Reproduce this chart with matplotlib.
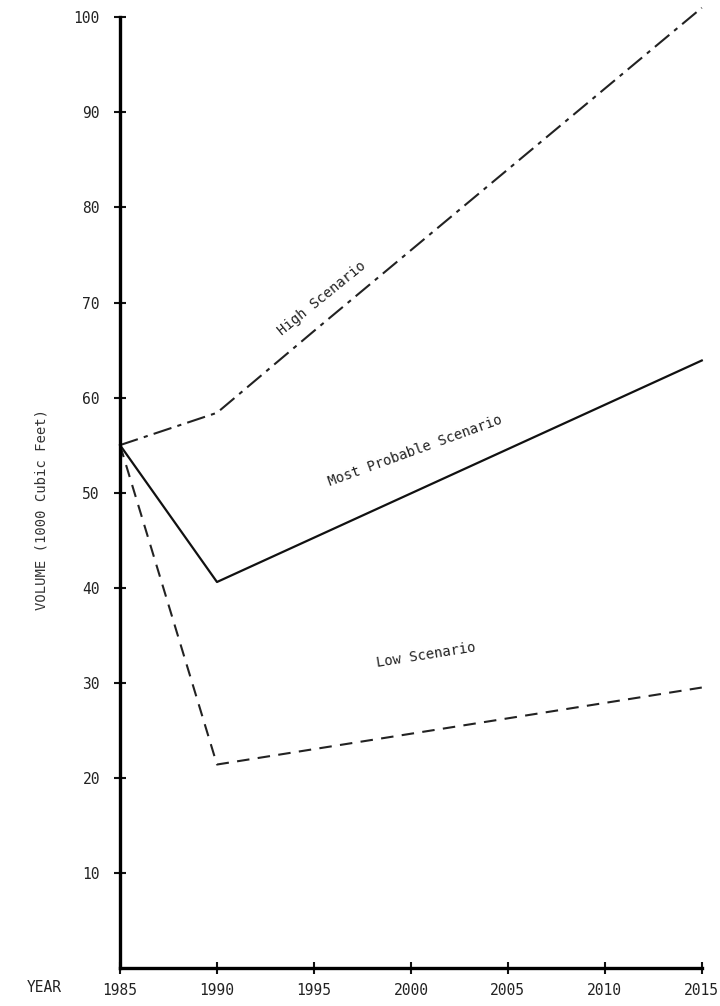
import matplotlib
matplotlib.use("Agg")
import matplotlib.pyplot as plt

years = [1985, 1990, 1995, 2000, 2005, 2010, 2015]
high = [55, 58.4, 67, 75.5, 84, 92.5, 101]
probable_years = [1985, 1990, 2015]
probable = [55, 40.6, 63.9]
low_years = [1985, 1990, 2015]
low = [55, 21.4, 29.5]
yticks = [10, 20, 30, 40, 50, 60, 70, 80, 90, 100]

font = "DejaVu Sans Mono"
fig = plt.figure(figsize=(7.2, 10.06), dpi=100)
ax = fig.add_axes([0.1667, 0.0378, 0.808, 0.945])
ax.plot(years, high, color="#222", lw=1.5, dashes=(9, 3, 2, 3), clip_on=False)
ax.plot(probable_years, probable, color="#111", lw=1.6, clip_on=False)
ax.plot(low_years, low, color="#222", lw=1.5, dashes=(6, 4), clip_on=False)

ax.set_xlim(1985, 2015)
ax.set_ylim(0, 100)
ax.spines["top"].set_visible(False)
ax.spines["right"].set_visible(False)
ax.spines["left"].set_linewidth(2.4)
ax.spines["bottom"].set_linewidth(2.4)
ax.set_xticks(years)
ax.set_yticks(yticks)
ax.tick_params(direction="inout", length=9, width=1.5, color="#111",
               labelsize=10.5, labelcolor="#222")
ax.tick_params(axis="y", pad=10)
ax.tick_params(axis="x", pad=6)
for lbl in ax.get_xticklabels() + ax.get_yticklabels():
    lbl.set_family(font)

ax.text(1995.4, 70.4, "High Scenario", rotation=39, ha="center", va="center",
        family=font, fontsize=10, color="#222", rotation_mode="anchor")
ax.text(2000.2, 54.4, "Most Probable Scenario", rotation=20, ha="center", va="center",
        family=font, fontsize=10, color="#222", rotation_mode="anchor")
ax.text(2000.8, 32.9, "Low Scenario", rotation=9, ha="center", va="center",
        family=font, fontsize=10, color="#222", rotation_mode="anchor")

fig.text(42 / 720, 1 - 510 / 1006, "VOLUME (1000 Cubic Feet)", rotation=90,
         ha="center", va="center", family=font, fontsize=10, color="#333")
fig.text(44 / 720, 1 - 987 / 1006, "YEAR", ha="center", va="center",
         family=font, fontsize=10.5, color="#222")

fig.savefig("out.png", dpi=100)
